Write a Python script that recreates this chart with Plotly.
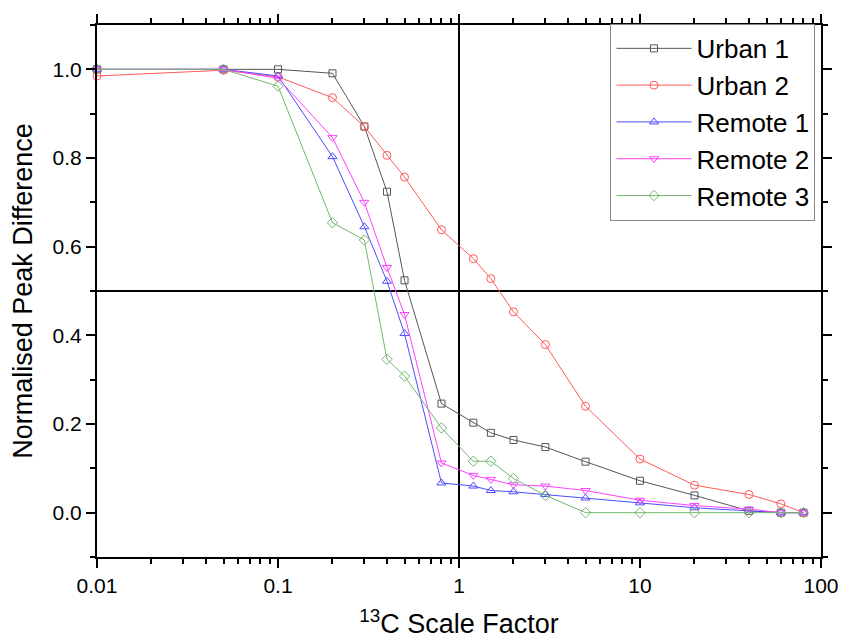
import plotly.graph_objects as go

scale_factor = [0.01, 0.05, 0.1, 0.2, 0.3, 0.4, 0.5, 0.8, 1.2, 1.5, 2, 3, 5, 10, 20, 40, 60, 80]

urban1 = [1.0, 1.0, 1.0, 0.991, 0.871, 0.724, 0.524, 0.246, 0.203, 0.180, 0.164, 0.148, 0.115, 0.072, 0.039, 0.004, 0.0, 0.0]
urban2 = [0.985, 0.998, 0.983, 0.936, 0.871, 0.806, 0.757, 0.638, 0.573, 0.528, 0.453, 0.379, 0.240, 0.121, 0.062, 0.041, 0.020, 0.0]
remote1 = [1.0, 1.0, 0.985, 0.803, 0.645, 0.522, 0.404, 0.067, 0.060, 0.050, 0.047, 0.041, 0.033, 0.022, 0.011, 0.005, 0.0, 0.0]
remote2 = [1.0, 1.0, 0.980, 0.846, 0.700, 0.553, 0.447, 0.112, 0.084, 0.075, 0.063, 0.060, 0.050, 0.028, 0.016, 0.008, 0.0, 0.0]
remote3 = [1.0, 1.0, 0.962, 0.654, 0.615, 0.346, 0.308, 0.191, 0.116, 0.116, 0.077, 0.039, 0.0, 0.0, 0.0, 0.0, 0.0, 0.0]

series_names = ["Urban 1", "Urban 2", "Remote 1", "Remote 2", "Remote 3"]
series_values = [urban1, urban2, remote1, remote2, remote3]
series_colors = ["#555555", "#ff5a5a", "#4d4dff", "#ff40ff", "#72b872"]
series_symbols = ["square-open", "circle-open", "triangle-up-open", "triangle-down-open", "diamond-open"]
series_sizes = [7, 8, 8, 8, 8]

x_tick_vals = [0.01, 0.1, 1, 10, 100]
x_tick_text = ["0.01", "0.1", "1", "10", "100"]
x_minor_vals = [m * d for d in [0.01, 0.1, 1, 10] for m in range(2, 10)]
y_tick_vals = [0.0, 0.2, 0.4, 0.6, 0.8, 1.0]
y_minor_vals = [-0.1, 0.1, 0.3, 0.5, 0.7, 0.9, 1.1]

x_range = [0.01, 100]
y_range = [-0.1, 1.1]
ref_x = 1
ref_y = 0.5

FONT = "Liberation Sans, Arial, sans-serif"

fig = go.Figure()

# reference lines
fig.add_trace(go.Scatter(x=[ref_x, ref_x], y=y_range, mode="lines",
                         line=dict(color="black", width=2), showlegend=False, hoverinfo="skip"))
fig.add_trace(go.Scatter(x=x_range, y=[ref_y, ref_y], mode="lines",
                         line=dict(color="black", width=2), showlegend=False, hoverinfo="skip"))

for name, vals, col, sym, sz in zip(series_names, series_values, series_colors, series_symbols, series_sizes):
    fig.add_trace(go.Scatter(
        x=scale_factor, y=vals, name=name, mode="lines+markers",
        line=dict(color=col, width=1),
        marker=dict(symbol=sym, size=sz, color=col, line=dict(color=col, width=1)),
        cliponaxis=False,
    ))

fig.update_layout(
    width=841, height=642,
    margin=dict(l=97, r=20, t=25, b=85, autoexpand=False),
    paper_bgcolor="white", plot_bgcolor="white",
    font=dict(family=FONT, color="black", size=21),
    legend=dict(
        x=0.9924, y=1.002, xanchor="right", yanchor="top",
        bordercolor="#888888", borderwidth=1, bgcolor="white",
        font=dict(size=26, family=FONT), itemwidth=75,
        tracegroupgap=0,
    ),
)

fig.update_xaxes(
    type="log", range=[-2, 2], autorange=False,
    showline=True, linecolor="black", linewidth=2, mirror="ticks",
    ticks="outside", ticklen=9, tickwidth=1.5, tickcolor="black",
    tickvals=x_tick_vals, ticktext=x_tick_text,
    tickfont=dict(size=21),
    minor=dict(tickvals=x_minor_vals, ticks="outside", ticklen=5, tickwidth=1.5, tickcolor="black", showgrid=False),
    showgrid=False, zeroline=False,
    title=dict(text="<sup>13</sup>C Scale Factor", font=dict(size=27), standoff=18),
)
fig.update_yaxes(
    range=y_range, autorange=False,
    showline=True, linecolor="black", linewidth=2, mirror="ticks",
    ticks="outside", ticklen=9, tickwidth=1.5, tickcolor="black",
    tickvals=y_tick_vals, tickformat=".1f",
    tickfont=dict(size=21),
    minor=dict(tickvals=y_minor_vals, ticks="outside", ticklen=5, tickwidth=1.5, tickcolor="black", showgrid=False),
    showgrid=False, zeroline=False,
    title=dict(text="Normalised Peak Difference", font=dict(size=27), standoff=12),
)

fig.write_html("out.html")
